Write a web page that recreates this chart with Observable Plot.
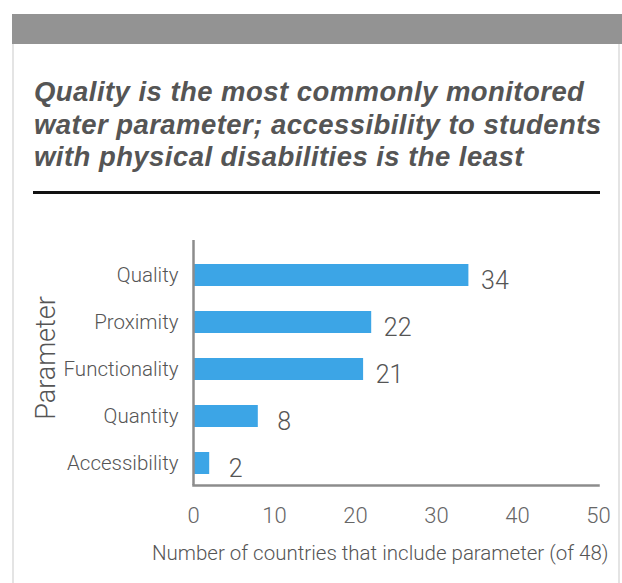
<!DOCTYPE html>
<html>
<head>
<meta charset="utf-8">
<script src="https://cdn.jsdelivr.net/npm/d3@7"></script>
<script src="https://cdn.jsdelivr.net/npm/@observablehq/plot@0.6"></script>
<style>
  html, body { margin: 0; padding: 0; background: #fff; }
  body { width: 622px; height: 583px; position: relative; overflow: hidden; font-family: "Liberation Sans", Arial, sans-serif; }
  #card { position: absolute; left: 12px; top: 14px; width: 604px; height: 620px; border-left: 2px solid #e4e4e4; border-right: 2px solid #e4e4e4; }
  #header { position: absolute; left: 12px; top: 14px; width: 610px; height: 30px; background: #939393; }
  #title { position: absolute; left: 34px; top: 76px; margin: 0; font-size: 27.5px; letter-spacing: 0.45px; line-height: 32.5px; font-weight: bold; font-style: italic; color: #555; white-space: nowrap; }
  #rule { position: absolute; left: 33px; top: 191px; width: 567px; height: 2.5px; background: #111; }
  #chart { position: absolute; left: 0; top: 230px; }
</style>
</head>
<body>
<div id="card"></div>
<div id="header"></div>
<h2 id="title">Quality is the most commonly monitored<br>water parameter; accessibility to students<br>with physical disabilities is the least</h2>
<div id="rule"></div>
<div id="chart"></div>
<script>
const parameters = ["Quality", "Proximity", "Functionality", "Quantity", "Accessibility"];
const counts = [34, 22, 21, 8, 2];
const xTicks = [0, 10, 20, 30, 40, 50];
const xLabel = "Number of countries that include parameter (of 48)";
const yLabel = "Parameter";

const data = parameters.map((p, i) => ({param: p, count: counts[i]}));

const chart = Plot.plot({
  width: 622,
  height: 353,
  marginLeft: 193,
  marginRight: 24,
  marginTop: 10,
  marginBottom: 98,
  style: {fontFamily: "Roboto, 'Liberation Sans', sans-serif", fontWeight: 300, color: "#555", background: "transparent"},
  x: {domain: [0, 50]},
  y: {domain: parameters, paddingInner: 0.53, paddingOuter: 0.2, insetTop: 12.5},
  marks: [
    Plot.barX(data, {x: "count", y: "param", fill: "#3ca5e6"}),
    Plot.text(data, {x: "count", y: "param", text: d => String(d.count), dx: 26, dy: 5, fontSize: 25, fill: "#555", textAnchor: "middle"}),
    Plot.axisX({ticks: xTicks, tickSize: 0, tickPadding: 22, fontSize: 22, label: null, fill: "#666"}),
    Plot.axisY({tickSize: 0, tickPadding: 15, fontSize: 20.5, label: null, fill: "#555"}),
    Plot.ruleX([0], {stroke: "#8c8c8c", strokeWidth: 2.5}),
    Plot.frame({anchor: "bottom", stroke: "#8c8c8c", strokeWidth: 2.5}),
    Plot.text([xLabel], {frameAnchor: "bottom-right", text: d => d, textAnchor: "end", dx: 10, dy: 74, fontSize: 20.5, fill: "#555"}),
    Plot.text([yLabel], {frameAnchor: "left", text: d => d, textAnchor: "middle", rotate: -90, dx: -147, dy: -5, fontSize: 27, fill: "#555"})
  ]
});
document.getElementById("chart").appendChild(chart);
</script>
</body>
</html>
